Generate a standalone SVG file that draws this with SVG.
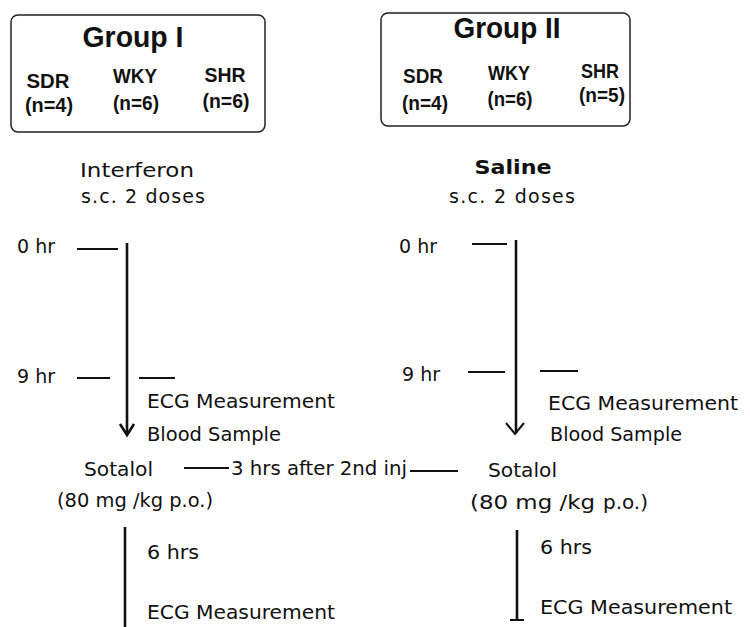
<svg xmlns="http://www.w3.org/2000/svg" width="750" height="627" viewBox="0 0 750 627">
<style>
.box{fill:#fff;stroke:#222;stroke-width:1.5}
.gt{font-family:"Liberation Sans",Arial,sans-serif;font-weight:bold;font-size:29px;fill:#111;text-anchor:middle}
.st{font-family:"Liberation Sans",Arial,sans-serif;font-weight:bold;font-size:20px;fill:#111;text-anchor:middle}
.t{font-family:"DejaVu Sans",Verdana,sans-serif;font-size:19px;fill:#111}
.tc{font-family:"DejaVu Sans Condensed","DejaVu Sans",sans-serif;font-size:20px;fill:#111}
.ln{stroke:#111;stroke-width:2;fill:none}
.lnt{stroke:#111;stroke-width:2.6;fill:none}
</style>
<rect width="750" height="627" fill="#fff"/>
<g id="group1">
<rect class="box" x="11" y="15" width="254" height="117" rx="7"/>
<text class="gt" x="133" y="47" textLength="101" lengthAdjust="spacingAndGlyphs">Group I</text>
<text class="st" x="48" y="88" textLength="43" lengthAdjust="spacingAndGlyphs">SDR</text>
<text class="st" x="49" y="112" textLength="48" lengthAdjust="spacingAndGlyphs">(n=4)</text>
<text class="st" x="135" y="83" textLength="44" lengthAdjust="spacingAndGlyphs">WKY</text>
<text class="st" x="136" y="110" textLength="46" lengthAdjust="spacingAndGlyphs">(n=6)</text>
<text class="st" x="225" y="82" textLength="41" lengthAdjust="spacingAndGlyphs">SHR</text>
<text class="st" x="226" y="108" textLength="47" lengthAdjust="spacingAndGlyphs">(n=6)</text>
</g>
<g id="group2">
<rect class="box" x="381" y="13" width="249" height="113" rx="7"/>
<text class="gt" x="507" y="38" textLength="107" lengthAdjust="spacingAndGlyphs">Group II</text>
<text class="st" x="423" y="83" textLength="40" lengthAdjust="spacingAndGlyphs">SDR</text>
<text class="st" x="425" y="110" textLength="46" lengthAdjust="spacingAndGlyphs">(n=4)</text>
<text class="st" x="509" y="80" textLength="42" lengthAdjust="spacingAndGlyphs">WKY</text>
<text class="st" x="510" y="106" textLength="45" lengthAdjust="spacingAndGlyphs">(n=6)</text>
<text class="st" x="600" y="78" textLength="38" lengthAdjust="spacingAndGlyphs">SHR</text>
<text class="st" x="602" y="102" textLength="46" lengthAdjust="spacingAndGlyphs">(n=5)</text>
</g>
<g id="interferon">
<text class="t" x="137" y="177" text-anchor="middle" font-size="22" textLength="114" lengthAdjust="spacingAndGlyphs">Interferon</text>
<text class="t" x="143" y="203" text-anchor="middle" font-size="17" textLength="124">s.c. 2 doses</text>
</g>
<g id="saline">
<text class="t" x="513" y="174" text-anchor="middle" font-size="20" font-weight="bold" textLength="77" lengthAdjust="spacingAndGlyphs">Saline</text>
<text class="t" x="512" y="203" text-anchor="middle" font-size="17" textLength="126">s.c. 2 doses</text>
</g>
<g id="left-timeline-labels">
<text class="t" x="17" y="253" font-size="20">0 hr</text>
<text class="t" x="17" y="383" font-size="20">9 hr</text>
<text class="t" x="147" y="408" font-size="20" textLength="188" lengthAdjust="spacingAndGlyphs">ECG Measurement</text>
<text class="tc" x="147" y="441" font-size="21" textLength="134" lengthAdjust="spacingAndGlyphs">Blood Sample</text>
</g>
<g id="right-timeline-labels">
<text class="t" x="399" y="253" font-size="20">0 hr</text>
<text class="t" x="402" y="381" font-size="20">9 hr</text>
<text class="t" x="548" y="410" font-size="20" textLength="190" lengthAdjust="spacingAndGlyphs">ECG Measurement</text>
<text class="tc" x="550" y="441" font-size="21" textLength="132" lengthAdjust="spacingAndGlyphs">Blood Sample</text>
</g>
<g id="sotalol-left">
<text class="tc" x="84" y="476" font-size="23" textLength="69" lengthAdjust="spacingAndGlyphs">Sotalol</text>
<text class="tc" x="57" y="507" font-size="23" textLength="156" lengthAdjust="spacingAndGlyphs">(80 mg /kg p.o.)</text>
</g>
<g id="sotalol-right">
<text class="tc" x="488" y="477" font-size="23" textLength="69" lengthAdjust="spacingAndGlyphs">Sotalol</text>
<text class="tc" x="470" y="509" font-size="23"><tspan textLength="125" lengthAdjust="spacingAndGlyphs">(80 mg /kg</tspan><tspan x="603" textLength="45" lengthAdjust="spacingAndGlyphs">p.o.)</tspan></text>
</g>
<g id="interval-label">
<text class="tc" x="231" y="475" font-size="21" textLength="176" lengthAdjust="spacingAndGlyphs">3 hrs after 2nd inj</text>
</g>
<g id="after-left">
<text class="t" x="147" y="559" font-size="19" textLength="52" lengthAdjust="spacingAndGlyphs">6 hrs</text>
<text class="t" x="147" y="619" font-size="20" textLength="188" lengthAdjust="spacingAndGlyphs">ECG Measurement</text>
</g>
<g id="after-right">
<text class="t" x="540" y="554" font-size="19" textLength="52" lengthAdjust="spacingAndGlyphs">6 hrs</text>
<text class="t" x="540" y="614" font-size="20" textLength="192" lengthAdjust="spacingAndGlyphs">ECG Measurement</text>
</g>
<g id="connectors">
<line class="ln" x1="77" y1="249" x2="118" y2="249"/>
<line class="lnt" x1="127" y1="243" x2="127" y2="433"/>
<path class="lnt" d="M120 424 L127 435 L134 424"/>
<line class="ln" x1="77" y1="378" x2="110" y2="378"/>
<line class="ln" x1="139" y1="378" x2="175" y2="378"/>
<line class="ln" x1="472" y1="244" x2="507" y2="244"/>
<line class="lnt" x1="516" y1="240" x2="516" y2="433"/>
<path class="ln" d="M506 423 L515 434 L524 423"/>
<line class="ln" x1="468" y1="372" x2="505" y2="372"/>
<line class="ln" x1="540" y1="371" x2="578" y2="371"/>
<line class="ln" x1="184" y1="468" x2="229" y2="468"/>
<line class="ln" x1="410" y1="471" x2="458" y2="471"/>
<line class="lnt" x1="125" y1="527" x2="125" y2="627"/>
<line class="lnt" x1="517" y1="530" x2="517" y2="620"/>
<line class="ln" x1="510" y1="620" x2="524" y2="620"/>
</g>
</svg>
